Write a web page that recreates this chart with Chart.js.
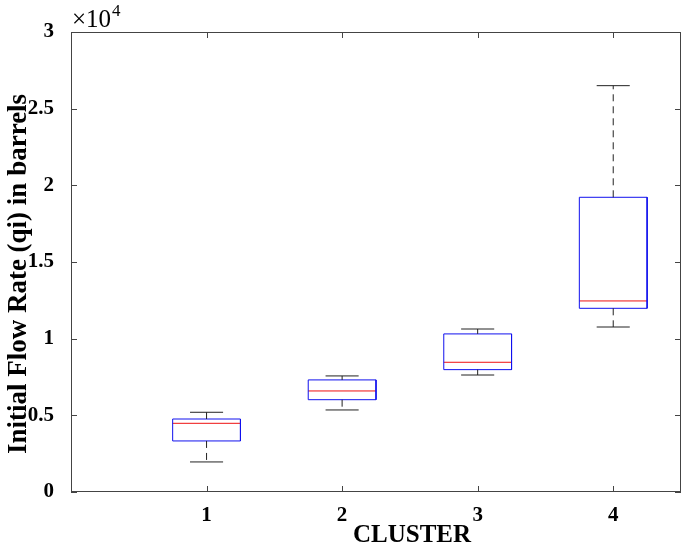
<!DOCTYPE html>
<html>
<head>
<meta charset="utf-8">
<script src="https://cdn.jsdelivr.net/npm/chart.js@4/dist/chart.umd.min.js"></script>
<style>
html, body { margin: 0; padding: 0; background: #fff; }
</style>
</head>
<body>
<canvas id="chart" width="685" height="547"></canvas>
<script>
// boxplot values per cluster (flow rate in barrels)
const clusters = [1, 2, 3, 4];
const whiskerLow = [1960, 5350, 7630, 10760];
const boxLow = [3330, 6020, 7980, 11980];
const medians = [4480, 6590, 8460, 12460];
const boxHigh = [4760, 7310, 10310, 19220];
const whiskerHigh = [5200, 7570, 10630, 26500];
const yTicks = [0, 5000, 10000, 15000, 20000, 25000, 30000];

const serif = '"Liberation Serif", "Times New Roman", serif';
const halfBox = 0.25;
const halfCap = 0.122;

function seg(points, color, dash) {
    return {
        data: points,
        showLine: true,
        borderColor: color,
        borderWidth: 1,
        borderDash: dash || [],
        pointRadius: 0,
        fill: false,
        tension: 0
    };
}

const datasets = [];
clusters.forEach((c, i) => {
    // whiskers
    datasets.push(seg([{ x: c, y: boxHigh[i] }, { x: c, y: whiskerHigh[i] }], '#222', [7, 5]));
    datasets.push(seg([{ x: c, y: boxLow[i] }, { x: c, y: whiskerLow[i] }], '#222', [7, 5]));
    datasets.push(seg([{ x: c - halfCap, y: whiskerHigh[i] }, { x: c + halfCap, y: whiskerHigh[i] }], '#222'));
    datasets.push(seg([{ x: c - halfCap, y: whiskerLow[i] }, { x: c + halfCap, y: whiskerLow[i] }], '#222'));
    // box
    datasets.push(seg([
        { x: c - halfBox, y: boxLow[i] },
        { x: c - halfBox, y: boxHigh[i] },
        { x: c + halfBox, y: boxHigh[i] },
        { x: c + halfBox, y: boxLow[i] },
        { x: c - halfBox, y: boxLow[i] }
    ], '#1010ee'));
    // median
    datasets.push(seg([{ x: c - halfBox, y: medians[i] }, { x: c + halfBox, y: medians[i] }], '#ee1010'));
});

const frame = {
    id: 'frame',
    afterDraw(chart) {
        const ctx = chart.ctx;
        const a = chart.chartArea;
        const xs = chart.scales.x, ys = chart.scales.y;
        ctx.save();
        ctx.strokeStyle = '#444';
        ctx.lineWidth = 1;
        ctx.strokeRect(Math.round(a.left) + 0.5, Math.round(a.top) + 0.5,
            Math.round(a.right - a.left) - 1, Math.round(a.bottom - a.top) - 1);
        ctx.beginPath();
        const t = 6;
        clusters.forEach(v => {
            const px = Math.round(xs.getPixelForValue(v)) + 0.5;
            ctx.moveTo(px, a.bottom); ctx.lineTo(px, a.bottom - t);
            ctx.moveTo(px, a.top); ctx.lineTo(px, a.top + t);
        });
        yTicks.forEach(v => {
            const py = Math.round(ys.getPixelForValue(v)) + 0.5;
            ctx.moveTo(a.left, py); ctx.lineTo(a.left + t, py);
            ctx.moveTo(a.right, py); ctx.lineTo(a.right - t, py);
        });
        ctx.stroke();

        ctx.fillStyle = '#000';
        // exponent label
        ctx.textBaseline = 'alphabetic';
        ctx.textAlign = 'left';
        ctx.font = '25px ' + serif;
        ctx.fillText('\u00d710', a.left + 1, 27);
        const w = ctx.measureText('\u00d710').width;
        ctx.font = '17px ' + serif;
        ctx.fillText('4', a.left + 1 + w + 1, 16);

        // axis titles
        ctx.font = 'bold 25px ' + serif;
        ctx.textAlign = 'center';
        ctx.fillText('CLUSTER', 412, 542);

        ctx.save();
        ctx.translate(26, 274);
        ctx.rotate(-Math.PI / 2);
        ctx.font = 'bold 27px ' + serif;
        ctx.fillText('Initial Flow Rate (qi) in barrels', 0, 0);
        ctx.restore();
        ctx.restore();
    }
};

new Chart(document.getElementById('chart'), {
    type: 'scatter',
    data: { datasets: datasets },
    options: {
        responsive: false,
        animation: false,
        layout: { padding: { top: 32, right: 4, left: 0, bottom: 0 } },
        plugins: { legend: { display: false }, tooltip: { enabled: false } },
        scales: {
            x: {
                type: 'linear',
                min: 0,
                max: 4.5,
                afterBuildTicks: s => { s.ticks = clusters.map(v => ({ value: v })); },
                afterFit: s => { s.height = 55; },
                grid: { display: false },
                border: { display: false },
                ticks: {
                    color: '#000',
                    padding: 3,
                    font: { family: serif, size: 21, weight: 'bold' },
                    callback: v => String(v)
                }
            },
            y: {
                type: 'linear',
                min: 0,
                max: 30000,
                afterBuildTicks: s => { s.ticks = yTicks.map(v => ({ value: v })); },
                afterFit: s => { s.width = 71; },
                grid: { display: false },
                border: { display: false },
                ticks: {
                    color: '#000',
                    padding: 9,
                    font: { family: serif, size: 21, weight: 'bold' },
                    callback: v => String(v / 10000)
                }
            }
        }
    },
    plugins: [frame]
});
</script>
</body>
</html>
